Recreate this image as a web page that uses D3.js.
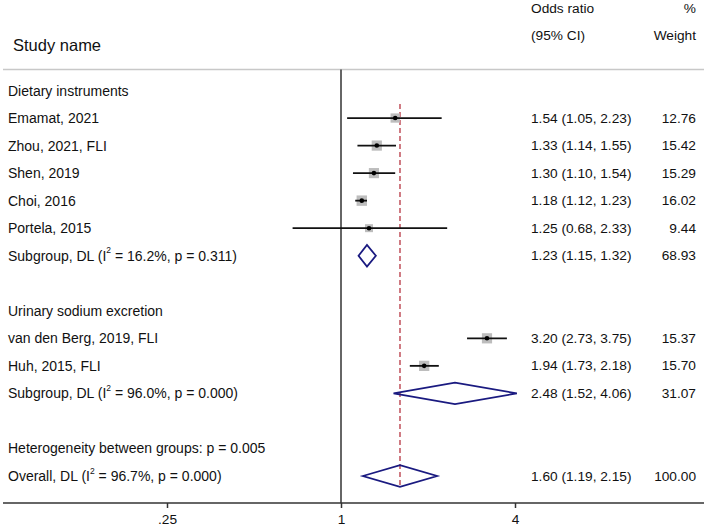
<!DOCTYPE html>
<html>
<head>
<meta charset="utf-8">
<script src="https://cdn.jsdelivr.net/npm/d3@7"></script>
<style>
  html, body { margin: 0; padding: 0; background: #fff; }
  svg { display: block; font-family: "Liberation Sans", Arial, Helvetica, sans-serif; }
</style>
</head>
<body>
<svg id="chart" width="709" height="527"></svg>
<script>
// ---------------- data ----------------
const rowLabels = [
  "Dietary instruments",
  "Emamat, 2021",
  "Zhou, 2021, FLI",
  "Shen, 2019",
  "Choi, 2016",
  "Portela, 2015",
  "Subgroup, DL (I|2| = 16.2%, p = 0.311)",
  "",
  "Urinary sodium excretion",
  "van den Berg, 2019, FLI",
  "Huh, 2015, FLI",
  "Subgroup, DL (I|2| = 96.0%, p = 0.000)",
  "",
  "Heterogeneity between groups: p = 0.005",
  "Overall, DL (I|2| = 96.7%, p = 0.000)"
];
// type: h = heading/text only, s = study, d = pooled diamond
const rowTypes = ["h","s","s","s","s","s","d","h","h","s","s","d","h","h","d"];
const oddsRatio = [null, 1.54, 1.33, 1.30, 1.18, 1.25, 1.23, null, null, 3.20, 1.94, 2.48, null, null, 1.60];
const ciLower   = [null, 1.05, 1.14, 1.10, 1.12, 0.68, 1.15, null, null, 2.73, 1.73, 1.52, null, null, 1.19];
const ciUpper   = [null, 2.23, 1.55, 1.54, 1.23, 2.33, 1.32, null, null, 3.75, 2.18, 4.06, null, null, 2.15];
const weights   = [null, 12.76, 15.42, 15.29, 16.02, 9.44, 68.93, null, null, 15.37, 15.70, 31.07, null, null, 100.00];
const tickValues = [0.25, 1, 4];
const tickLabels = [".25", "1", "4"];
const overallOR = 1.60;

// ---------------- layout ----------------
const svg = d3.select("#chart");
const FONT = 13.7;
const LFONT = 14;
const x = d3.scaleLog().base(2).domain([0.25, 4]).range([167, 515]);
const y = d3.scaleLinear().domain([0, rowLabels.length - 1]).range([90.5, 476]);
const axisY = 503;
const boxSide = d3.scaleSqrt().domain([0, 16.02]).range([0, 10.4]);

// header
svg.append("text").attr("x", 13).attr("y", 45).attr("dominant-baseline", "central")
  .attr("font-size", 16.5).attr("fill", "#111").text("Study name");
svg.append("text").attr("x", 531).attr("y", 8.5).attr("dominant-baseline", "central")
  .attr("font-size", FONT).attr("fill", "#111").text("Odds ratio");
svg.append("text").attr("x", 531).attr("y", 35.5).attr("dominant-baseline", "central")
  .attr("font-size", FONT).attr("fill", "#111").text("(95% CI)");
svg.append("text").attr("x", 696).attr("y", 8.5).attr("dominant-baseline", "central")
  .attr("text-anchor", "end").attr("font-size", FONT).attr("fill", "#111").text("%");
svg.append("text").attr("x", 696).attr("y", 35.5).attr("dominant-baseline", "central")
  .attr("text-anchor", "end").attr("font-size", FONT).attr("fill", "#111").text("Weight");

// separator line
svg.append("line").attr("x1", 3).attr("x2", 704).attr("y1", 69.5).attr("y2", 69.5)
  .attr("stroke", "#c8c8c8").attr("stroke-width", 1.5);

// null line
svg.append("line").attr("x1", x(1)).attr("x2", x(1)).attr("y1", 69.5).attr("y2", axisY)
  .attr("stroke", "#333").attr("stroke-width", 1.5);

// overall dashed line
svg.append("line").attr("x1", x(overallOR)).attr("x2", x(overallOR))
  .attr("y1", 104).attr("y2", y(14) + 12)
  .attr("stroke", "#c0505a").attr("stroke-width", 1.5).attr("stroke-dasharray", "5,3");

// axis
svg.append("line").attr("x1", 3).attr("x2", 704).attr("y1", axisY).attr("y2", axisY)
  .attr("stroke", "#333").attr("stroke-width", 1.5);
const axis = d3.axisBottom(x).tickValues(tickValues)
  .tickFormat((d, i) => tickLabels[i]).tickSize(5).tickPadding(6);
const axG = svg.append("g").attr("transform", `translate(0,${axisY})`).call(axis);
axG.select(".domain").remove();
axG.selectAll(".tick line").attr("stroke", "#333").attr("stroke-width", 1.5);
axG.selectAll(".tick text").attr("font-size", FONT).attr("fill", "#111")
  .attr("font-family", "Liberation Sans, Arial, sans-serif");

// row labels (with superscript support via |..|)
rowLabels.forEach((lab, i) => {
  if (!lab) return;
  const t = svg.append("text").attr("x", 8).attr("y", y(i)).attr("dominant-baseline", "central")
    .attr("font-size", LFONT).attr("fill", "#111");
  const parts = lab.split("|");
  parts.forEach((p, j) => {
    if (j % 2 === 1) {
      t.append("tspan").attr("font-size", 8.5).attr("dy", -5.5).text(p);
    } else {
      const ts = t.append("tspan").text(p);
      if (j > 0) ts.attr("dy", 5.5);
    }
  });
});

// estimates
const fmt = d3.format(".2f");
rowTypes.forEach((tp, i) => {
  if (tp === "h") return;
  const cy = y(i);
  svg.append("text").attr("x", 531).attr("y", cy).attr("dominant-baseline", "central")
    .attr("font-size", FONT).attr("fill", "#111")
    .text(`${fmt(oddsRatio[i])} (${fmt(ciLower[i])}, ${fmt(ciUpper[i])})`);
  svg.append("text").attr("x", 696).attr("y", cy).attr("dominant-baseline", "central")
    .attr("text-anchor", "end").attr("font-size", FONT).attr("fill", "#111")
    .text(fmt(weights[i]));
  if (tp === "s") {
    const s = boxSide(weights[i]);
    svg.append("rect").attr("x", x(oddsRatio[i]) - s / 2).attr("y", cy - s / 2)
      .attr("width", s).attr("height", s).attr("fill", "#bdbdbd");
    svg.append("line").attr("x1", x(ciLower[i])).attr("x2", x(ciUpper[i]))
      .attr("y1", cy).attr("y2", cy).attr("stroke", "#111").attr("stroke-width", 1.8);
    svg.append("circle").attr("cx", x(oddsRatio[i])).attr("cy", cy).attr("r", 2.3).attr("fill", "#000");
  } else {
    const h = 10.8;
    const pts = [[x(ciLower[i]), cy], [x(oddsRatio[i]), cy - h], [x(ciUpper[i]), cy], [x(oddsRatio[i]), cy + h]];
    svg.append("polygon").attr("points", pts.map(p => p.join(",")).join(" "))
      .attr("fill", "none").attr("stroke", "#1a1a80").attr("stroke-width", 1.8)
      .attr("stroke-linejoin", "miter");
  }
});
</script>
</body>
</html>
